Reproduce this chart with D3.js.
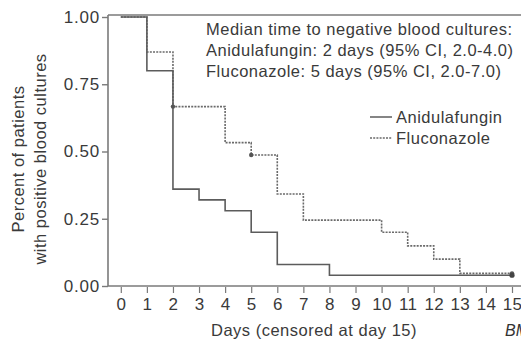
<!DOCTYPE html>
<html><head><meta charset="utf-8">
<script src="https://cdn.jsdelivr.net/npm/d3@7"></script>
<style>
html,body{margin:0;padding:0;background:#fff;}
svg{display:block;font-family:"Liberation Sans",Arial,Helvetica,sans-serif;}
</style></head>
<body><svg id="c" width="521" height="339"></svg>
<script>
// Data (Kaplan–Meier step values: value from day[i] until next day)
const anidDays   = [0, 1, 2, 3, 4, 5, 6, 8, 15];
const anidVals   = [1.0, 0.80, 0.36, 0.32, 0.28, 0.20, 0.08, 0.04, 0.04];
const flucDays   = [0, 1, 2, 4, 5, 6, 7, 10, 11, 12, 13, 15];
const flucVals   = [1.0, 0.87, 0.667, 0.533, 0.487, 0.342, 0.245, 0.20, 0.149, 0.10, 0.047, 0.047];
const anidCensor = [[15, 0.04]];
const flucCensor = [[2, 0.667], [5, 0.487], [15, 0.047]];
const xTicks = d3.range(0, 16);
const yTicks = [0, 0.25, 0.5, 0.75, 1.0];
const annotation = [
  "Median time to negative blood cultures:",
  "Anidulafungin: 2 days (95% CI, 2.0-4.0)",
  "Fluconazole: 5 days (95% CI, 2.0-7.0)"
];
const seriesNames = ["Anidulafungin", "Fluconazole"];

const svg = d3.select("#c");
const x = d3.scaleLinear().domain([0, 15]).range([120.8, 512]);
const y = d3.scaleLinear().domain([0, 1]).range([286, 17]);
const axisCol = "#7a7a7a", textCol = "#3a3a3a", lineCol = "#5c5c5c";

// frame top & axes
svg.append("line").attr("x1",108).attr("x2",521).attr("y1",15).attr("y2",15)
  .attr("stroke",axisCol).attr("stroke-width",1.6);

const yAxis = svg.append("g").attr("transform","translate(108,0)")
  .call(d3.axisLeft(y).tickValues(yTicks).tickFormat(d3.format(".2f")).tickSize(6).tickPadding(2));
yAxis.select(".domain").attr("d","M0,15V286").attr("stroke",axisCol).attr("stroke-width",1.6);
yAxis.selectAll(".tick line").attr("stroke",axisCol).attr("stroke-width",1.4);
yAxis.selectAll(".tick text").attr("fill",textCol).attr("font-size",17).attr("letter-spacing",0.8)
  .attr("font-family","'Liberation Sans',Arial,sans-serif");

const xAxis = svg.append("g").attr("transform","translate(0,286)")
  .call(d3.axisBottom(x).tickValues(xTicks).tickFormat(d3.format("d")).tickSize(7).tickPadding(5));
xAxis.select(".domain").attr("d","M108,0H521").attr("stroke",axisCol).attr("stroke-width",1.6);
xAxis.selectAll(".tick line").attr("stroke",axisCol).attr("stroke-width",1.2).attr("y1",1);
xAxis.selectAll(".tick text").attr("fill",textCol).attr("font-size",17).attr("letter-spacing",0.3)
  .attr("font-family","'Liberation Sans',Arial,sans-serif");

// step lines
function stepData(days, vals){ return days.map((d,i)=>({d, v: vals[i]})); }
const line = d3.line().x(p=>x(p.d)).y(p=>y(p.v)).curve(d3.curveStepAfter);
svg.append("path").datum(stepData(flucDays, flucVals)).attr("d", line)
  .attr("fill","none").attr("stroke","#6a6a6a").attr("stroke-width",1.6).attr("stroke-dasharray","2,1.2");
svg.append("path").datum(stepData(anidDays, anidVals)).attr("d", line)
  .attr("fill","none").attr("stroke",lineCol).attr("stroke-width",1.6);

// censor marks
svg.selectAll(".cf").data(flucCensor).enter().append("circle")
  .attr("cx",d=>x(d[0])).attr("cy",d=>y(d[1])).attr("r",2.2).attr("fill","#555");
svg.selectAll(".ca").data(anidCensor).enter().append("circle")
  .attr("cx",d=>x(d[0])).attr("cy",d=>y(d[1])).attr("r",2.6).attr("fill","#444");

// annotation
const ann = svg.append("text").attr("x",206).attr("fill",textCol).attr("font-size",16.5).attr("letter-spacing",0.5);
annotation.forEach((t,i)=>ann.append("tspan").attr("x",206).attr("y",35+i*21).text(t));

// legend
const leg = svg.append("g");
seriesNames.forEach((n,i)=>{
  const yy = 117 + i*21;
  leg.append("line").attr("x1",370).attr("x2",392).attr("y1",yy).attr("y2",yy)
    .attr("stroke", i ? "#6a6a6a" : lineCol).attr("stroke-width", 1.5)
    .attr("stroke-dasharray", i ? "2,1.2" : null);
  leg.append("text").attr("x",396).attr("y",yy+5.5).attr("fill",textCol)
    .attr("font-size",16.5).attr("letter-spacing",0.5).text(n);
});

// axis titles
svg.append("text").attr("x",314).attr("y",336).attr("text-anchor","middle").attr("fill",textCol)
  .attr("font-size",16.5).attr("letter-spacing",0.5).text("Days (censored at day 15)");
const yt = svg.append("text").attr("transform","translate(0,159) rotate(-90)").attr("text-anchor","middle")
  .attr("fill",textCol).attr("font-size",16.5).attr("letter-spacing",0.5);
yt.append("tspan").attr("x",0).attr("y",24).text("Percent of patients");
yt.append("tspan").attr("x",0).attr("y",46).text("with positive blood cultures");

// source mark (cropped)
svg.append("text").attr("x",505).attr("y",336).attr("fill","#333").attr("font-size",16)
  .attr("font-style","italic").text("BMJ");
</script></body></html>
